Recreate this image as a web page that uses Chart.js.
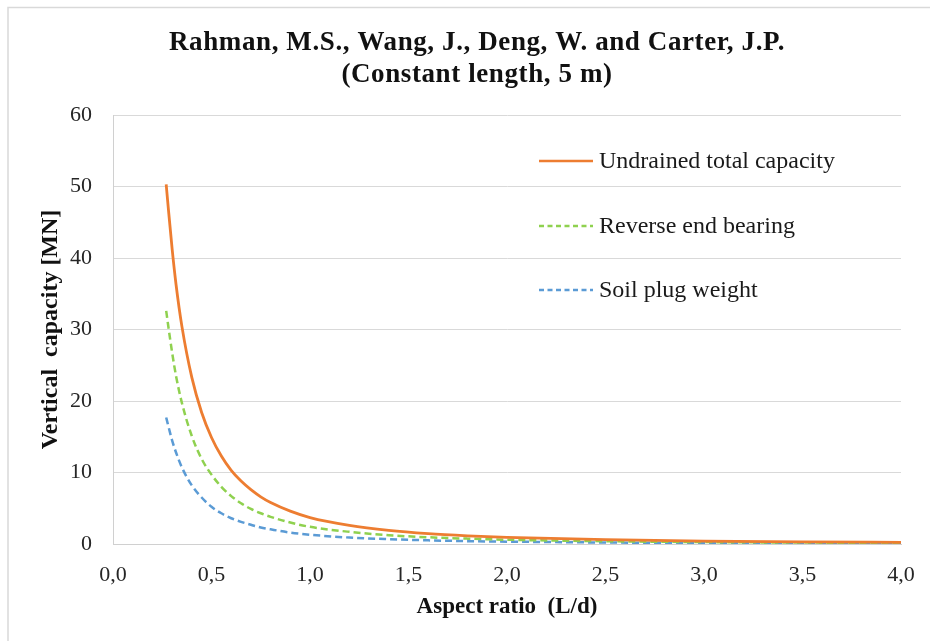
<!DOCTYPE html>
<html>
<head>
<meta charset="utf-8">
<script src="https://cdn.jsdelivr.net/npm/chart.js@4.4.1/dist/chart.umd.min.js"></script>
<style>
  html, body { margin: 0; padding: 0; background: #ffffff; }
  #wrap { width: 930px; height: 641px; position: relative; }
</style>
</head>
<body>
<div id="wrap"><canvas id="c" width="930" height="641"></canvas></div>
<script>
// ---- data ----
const aspectRatio = [0.27, 0.28, 0.30, 0.32, 0.35, 0.40, 0.45, 0.50, 0.55, 0.60, 0.65, 0.70, 0.75, 0.80, 0.90, 1.00, 1.20, 1.40, 1.60, 1.80, 2.00, 2.50, 3.00, 3.50, 4.00];
const undrainedTotal = [50.3, 47.2, 41.3, 36.3, 30.4, 23.3, 18.4, 14.9, 12.3, 10.3, 8.8, 7.6, 6.6, 5.8, 4.6, 3.7, 2.6, 1.9, 1.45, 1.15, 0.93, 0.60, 0.41, 0.30, 0.23];
const reverseEndBearing = [32.6, 30.6, 26.8, 23.5, 19.7, 15.1, 11.9, 9.7, 8.0, 6.7, 5.7, 4.9, 4.3, 3.8, 3.0, 2.4, 1.7, 1.23, 0.94, 0.75, 0.60, 0.39, 0.27, 0.20, 0.15];
const soilPlugWeight = [17.7, 16.6, 14.5, 12.8, 10.7, 8.2, 6.5, 5.2, 4.3, 3.6, 3.1, 2.7, 2.3, 2.05, 1.6, 1.3, 0.9, 0.67, 0.51, 0.40, 0.33, 0.21, 0.15, 0.11, 0.08];
const seriesNames = ['Undrained total capacity', 'Reverse end bearing', 'Soil plug weight'];
const xTickLabels = ['0,0', '0,5', '1,0', '1,5', '2,0', '2,5', '3,0', '3,5', '4,0'];
const yTickValues = [0, 10, 20, 30, 40, 50, 60];
const chartTitle = ['Rahman, M.S., Wang, J., Deng, W. and Carter, J.P.', '(Constant length, 5 m)'];
const xTitle = 'Aspect ratio  (L/d)';
const yTitle = 'Vertical  capacity [MN]';

const SERIF = "'Liberation Serif', 'Times New Roman', serif";
const colors = ['#ED7D31', '#8FD14F', '#5B9BD5'];
const dashes = [[], [7, 4], [7, 4]];

function toPts(ys) { return aspectRatio.map((x, i) => ({ x: x, y: ys[i] })); }
const seriesData = [undrainedTotal, reverseEndBearing, soilPlugWeight];

const datasets = seriesData.map((d, i) => ({
  label: seriesNames[i],
  data: toPts(d),
  borderColor: colors[i],
  backgroundColor: colors[i],
  borderWidth: i === 0 ? 2.8 : 2.5,
  borderDash: dashes[i],
  pointRadius: 0,
  cubicInterpolationMode: 'monotone',
  fill: false,
  order: i
}));

const frameTitleLegend = {
  id: 'frameTitleLegend',
  beforeDraw(chart) {
    const ctx = chart.ctx;
    ctx.save();
    ctx.fillStyle = '#ffffff';
    ctx.fillRect(0, 0, chart.width, chart.height);
    ctx.strokeStyle = '#d9d9d9';
    ctx.lineWidth = 1.5;
    ctx.beginPath();
    ctx.moveTo(8, 641);
    ctx.lineTo(8, 7.5);
    ctx.lineTo(930, 7.5);
    ctx.stroke();
    // title
    ctx.fillStyle = '#111111';
    ctx.font = "bold 27px " + SERIF;
    ctx.textAlign = 'center';
    ctx.textBaseline = 'middle';
    if ('letterSpacing' in ctx) ctx.letterSpacing = '0.6px';
    ctx.fillText(chartTitle[0], 477, 43);
    ctx.fillText(chartTitle[1], 477, 75);
    if ('letterSpacing' in ctx) ctx.letterSpacing = '0px';
    ctx.restore();
  },
  afterDatasetsDraw(chart) {
    const ctx = chart.ctx;
    const ys = [161, 226, 290];
    ctx.save();
    seriesNames.forEach((name, i) => {
      ctx.strokeStyle = colors[i];
      ctx.lineWidth = 2.5;
      ctx.setLineDash(i === 0 ? [] : [5, 3.5]);
      ctx.beginPath();
      ctx.moveTo(539, ys[i]);
      ctx.lineTo(593, ys[i]);
      ctx.stroke();
      ctx.setLineDash([]);
      ctx.fillStyle = '#1a1a1a';
      ctx.font = "24px " + SERIF;
      ctx.textAlign = 'left';
      ctx.textBaseline = 'middle';
      ctx.fillText(name, 599, ys[i] + 1);
    });
    ctx.restore();
  }
};

new Chart(document.getElementById('c'), {
  type: 'line',
  data: { datasets: datasets },
  options: {
    responsive: false,
    animation: false,
    devicePixelRatio: 1,
    layout: { padding: { left: 0, right: 29, top: 115, bottom: 0 } },
    plugins: {
      legend: { display: false },
      tooltip: { enabled: false },
      title: { display: false }
    },
    scales: {
      x: {
        type: 'linear',
        min: 0,
        max: 4,
        afterBuildTicks(scale) {
          scale.ticks = xTickLabels.map((t, i) => ({ value: i * 0.5 }));
        },
        afterFit(scale) { scale.height = 97; scale.paddingLeft = 0; scale.paddingRight = 0; },
        ticks: {
          callback: (v, i) => xTickLabels[i],
          color: '#262626',
          font: { family: SERIF, size: 22 },
          padding: 18,
          maxRotation: 0,
          autoSkip: false
        },
        grid: { display: false, drawTicks: false },
        border: { display: true, color: '#d0d0d0', width: 1 },
        title: {
          display: true,
          text: xTitle,
          color: '#111111',
          font: { family: SERIF, size: 23, weight: 'bold', lineHeight: 1.2 },
          padding: { top: 0, bottom: 20 }
        }
      },
      y: {
        type: 'linear',
        min: 0,
        max: 60,
        afterBuildTicks(scale) {
          scale.ticks = yTickValues.map(v => ({ value: v }));
        },
        afterFit(scale) { scale.width = 113; scale.paddingTop = 0; scale.paddingBottom = 0; },
        ticks: {
          color: '#262626',
          font: { family: SERIF, size: 22 },
          padding: 21
        },
        grid: { color: '#d9d9d9', lineWidth: 1, drawTicks: false },
        border: { display: true, color: '#d0d0d0', width: 1 },
        title: {
          display: true,
          text: yTitle,
          color: '#111111',
          font: { family: SERIF, size: 24, weight: 'bold', lineHeight: 1.2 },
          padding: { top: 36, bottom: 0 }
        }
      }
    }
  },
  plugins: [frameTitleLegend]
});
</script>
</body>
</html>
